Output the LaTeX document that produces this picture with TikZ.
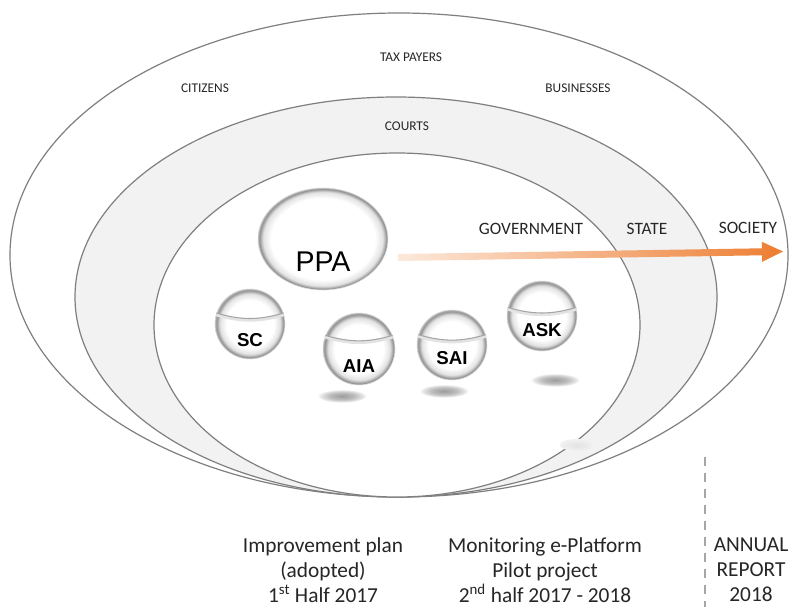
\documentclass[tikz,border=0pt]{standalone}
\usepackage{fontspec}
\setmainfont{Carlito}
\newfontfamily\arialfont{Liberation Sans}
\usetikzlibrary{shapes.geometric}

\definecolor{ringline}{HTML}{7F7F7F}
\definecolor{ringfill}{HTML}{F2F2F2}
\definecolor{arrowend}{HTML}{ED7D31}
\definecolor{arrowstart}{HTML}{FCE9DC}
\definecolor{rimA}{HTML}{E2E2E2}
\definecolor{rimB}{HTML}{929292}
\definecolor{rimC}{HTML}{B8B8B8}
\definecolor{shadowA}{HTML}{9C9C9C}
\definecolor{shadowB}{HTML}{BDBDBD}
\definecolor{shadowD}{HTML}{E4E4E4}
\definecolor{shadowC}{HTML}{E2E2E2}
\definecolor{labtext}{HTML}{262626}
\definecolor{dashgray}{HTML}{A6A6A6}

\pgfdeclareradialshading{spheresh}{\pgfpoint{0bp}{0bp}}{color(0bp)=(white); color(17bp)=(white); color(21.5bp)=(rimA); color(24bp)=(rimB); color(25bp)=(rimC); color(50bp)=(rimC)}
\pgfdeclareradialshading{ppash}{\pgfpoint{0bp}{0bp}}{color(0bp)=(white); color(20bp)=(white); color(23bp)=(rimA); color(24.5bp)=(rimB); color(25bp)=(rimC); color(50bp)=(rimC)}
\pgfdeclareradialshading{shadowsh}{\pgfpoint{0bp}{0bp}}{color(0bp)=(shadowA); color(13bp)=(shadowB); color(21bp)=(shadowD); color(25bp)=(white); color(50bp)=(white)}
\pgfdeclareradialshading{faintsh}{\pgfpoint{0bp}{0bp}}{color(0bp)=(shadowC); color(25bp)=(ringfill); color(50bp)=(ringfill)}

\begin{document}
\begin{tikzpicture}[x=0.75pt,y=-0.75pt,
  ring/.style={draw=ringline, line width=0.9pt},
  smalllab/.style={font=\fontsize{10}{12}\selectfont, text=labtext},
  biglab/.style={font=\fontsize{13}{15}\selectfont, text=labtext},
  bottomlab/.style={font=\fontsize{16}{18.75}\selectfont, align=center, text=labtext},
  ball/.style={circle, inner sep=0pt, shading=spheresh, draw=gray!30, line width=0.4pt},
  balllab/.style={font=\arialfont\bfseries\fontsize{14}{16}\selectfont, text=black},
  shadowblob/.style={ellipse, inner sep=0pt, shading=shadowsh, minimum width=37pt, minimum height=10pt},
  meniscusband/.style={draw=gray!22, line width=2.4pt},
  meniscus/.style={draw=gray!70, line width=0.8pt}
]
\useasboundingbox (0,0) rectangle (796,607);
\fill[white] (0,0) rectangle (796,607);

% rings
\draw[ring, fill=white] (399,255) ellipse [x radius=389, y radius=242];
\draw[ring, fill=ringfill] (396,297) ellipse [x radius=321, y radius=200];
\draw[ring, fill=white] (397,325) ellipse [x radius=243, y radius=172];

% shadows
\node[shadowblob] (shAIA) at (342,396) {};
\node[shadowblob] (shSAI) at (444,391) {};
\node[shadowblob] (shASK) at (555,380) {};
\node[ellipse, inner sep=0pt, shading=faintsh, minimum width=26pt, minimum height=9pt] (shFaint) at (577,445) {};

% PPA
\node[ellipse, inner sep=0pt, shading=ppash, draw=gray!30, line width=0.4pt,
      minimum width=97.5pt, minimum height=76.5pt] (ppa) at (323,239) {};
\node[font=\arialfont\fontsize{21.4}{24}\selectfont, text=black] (ppaText) at (323,262) {PPA};

% small spheres
\node[ball, minimum size=52.5pt] (sc) at (250,324) {};
\draw[meniscusband] ([yshift=-1.2pt]sc.162) to[bend right=16] ([yshift=-1.2pt]sc.18);
\draw[meniscus] (sc.162) to[bend right=16] (sc.18);
\node[balllab] (scText) at (250,340) {SC};

\node[ball, minimum size=54pt] (aia) at (359,349) {};
\draw[meniscusband] ([yshift=-1.2pt]aia.158) to[bend right=16] ([yshift=-1.2pt]aia.22);
\draw[meniscus] (aia.158) to[bend right=16] (aia.22);
\node[balllab] (aiaText) at (359,366) {AIA};

\node[ball, minimum size=52.5pt] (sai) at (452,345) {};
\draw[meniscusband] ([yshift=-1.2pt]sai.163) to[bend right=16] ([yshift=-1.2pt]sai.17);
\draw[meniscus] (sai.163) to[bend right=16] (sai.17);
\node[balllab] (saiText) at (452,358) {SAI};

\node[ball, minimum size=52.5pt] (ask) at (542,316) {};
\draw[meniscusband] ([yshift=-1.2pt]ask.166) to[bend right=16] ([yshift=-1.2pt]ask.14);
\draw[meniscus] (ask.166) to[bend right=16] (ask.14);
\node[balllab] (askText) at (542,330) {ASK};

% arrow
\shade[left color=arrowstart, right color=arrowend]
  (397.9,254) -- (761.95,248.3) -- (761.84,241.8) -- (783,251.5)
  -- (762.16,261.8) -- (762.05,255.3) -- (398.05,261) -- cycle;

% ring labels
\node[smalllab] (tax) at (411,57) {TAX PAYERS};
\node[smalllab] (cit) at (205,88) {CITIZENS};
\node[smalllab] (bus) at (578,88) {BUSINESSES};
\node[smalllab] (courts) at (407,126) {COURTS};
\node[biglab] (gov) at (531,229) {GOVERNMENT};
\node[biglab] (state) at (647,229) {STATE};
\node[biglab] (soc) at (748,228) {SOCIETY};

% dashed separator
\coordinate (dTop) at (705,457);
\coordinate (dBot) at (705,607);
\draw[dashgray, line width=1.2pt, dash pattern=on 7pt off 5pt] (dTop) -- (dBot);

% bottom texts
\node[bottomlab, anchor=north] (plan) at (323,533) {Improvement plan\\(adopted)\\1\textsuperscript{st} Half 2017};
\node[bottomlab, anchor=north] (mon) at (545,533) {Monitoring e-Platform\\Pilot project\\2\textsuperscript{nd} half 2017 - 2018};
\node[bottomlab, anchor=north] (ann) at (751,533) {ANNUAL\\REPORT\\2018};
\end{tikzpicture}
\end{document}
